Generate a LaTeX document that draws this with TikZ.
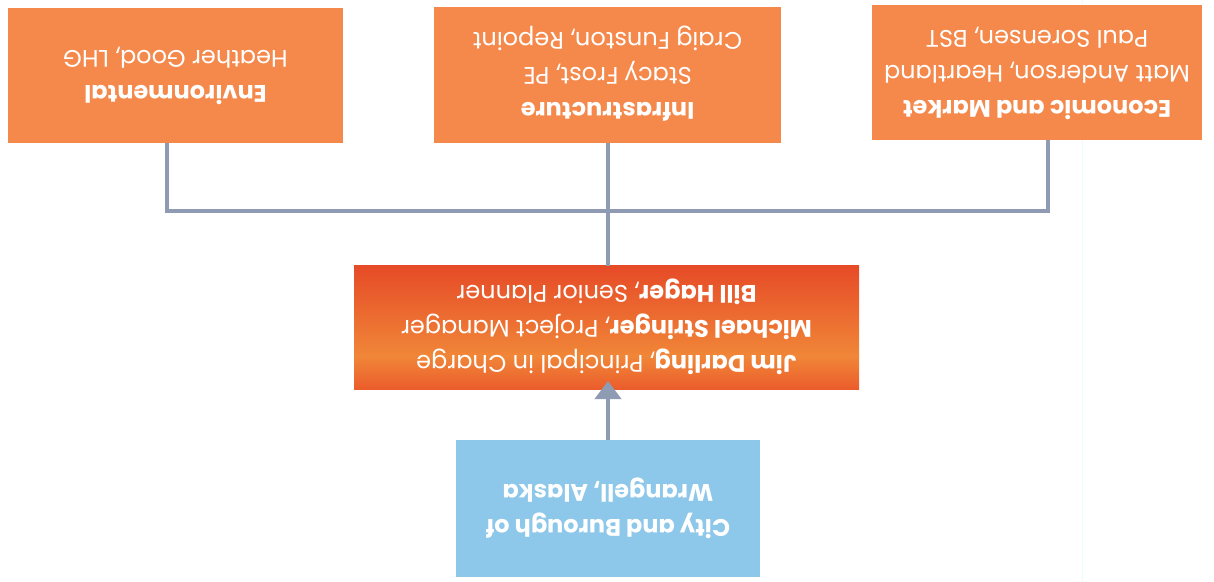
\documentclass[tikz,border=0pt]{standalone}
\usepackage{graphicx}
\usepackage{fontspec}
\setmainfont{Poppins}
\usetikzlibrary{arrows.meta}
\definecolor{boxorange}{HTML}{F4894B}
\definecolor{boxblue}{HTML}{8DC7EA}
\definecolor{linkgrey}{HTML}{8E9BB3}
\definecolor{redtop}{HTML}{E64B27}
\definecolor{redband}{HTML}{F08638}
\definecolor{redbot}{HTML}{EB5D2C}
\begin{document}
\begin{tikzpicture}[x=0.5pt,y=-0.5pt,
  box/.style={inner sep=0pt, outer sep=0pt, text=white, font=\fontsize{12}{17.5}\selectfont},
  link/.style={draw=linkgrey, line width=2pt},
  up/.style={}]
\useasboundingbox (0,0) rectangle (1214,582);
\fill[white] (0,0) rectangle (1214,582);
% faint scan line
\draw[color=green!8!cyan!10, line width=0.4pt] (1082,0) -- (1082,582);
% middle box shading
\shade[top color=redtop, bottom color=redband] (354,266) rectangle (859,356);
\shade[top color=redband, bottom color=redbot] (354,356) rectangle (859,389);
% boxes
\node[box, fill=boxorange, minimum width=167.5pt, minimum height=67.5pt] (env) at (175.5,75.5)
  {\rotatebox[origin=c]{180}{\begin{tabular}{@{}c@{}}\textbf{Environmental}\\Heather Good, LHG\end{tabular}}};
\node[box, fill=boxorange, minimum width=173.5pt, minimum height=68pt] (inf) at (607.5,75)
  {\rotatebox[origin=c]{180}{\begin{tabular}{@{}c@{}}\textbf{Infrastructure}\\Stacy Frost, PE\\Craig Funston, Repoint\end{tabular}}};
\node[box, fill=boxorange, minimum width=165pt, minimum height=67.5pt] (eco) at (1037,72.5)
  {\rotatebox[origin=c]{180}{\begin{tabular}{@{}c@{}}\textbf{Economic and Market}\\Matt Anderson, Heartland\\Paul Sorensen, BST\end{tabular}}};
\node[box, minimum width=252.5pt, minimum height=61.5pt] (mid) at (606.5,327.5)
  {\rotatebox[origin=c]{180}{\begin{tabular}{@{}c@{}}\textbf{Jim Darling}, Principal in Charge\\\textbf{Michael Stringer}, Project Manager\\\textbf{Bill Hager}, Senior Planner\end{tabular}}};
\node[box, fill=boxblue, minimum width=152pt, minimum height=68.5pt] (city) at (608,508.5)
  {\rotatebox[origin=c]{180}{\begin{tabular}{@{}c@{}}\textbf{City and Burough of}\\\textbf{Wrangell, Alaska}\end{tabular}}};
% connectors
\coordinate (jl) at (167,211);
\coordinate (jm) at (608,211);
\coordinate (jr) at (1048,211);
\draw[link] (env.south -| jl) -- (jl) -- (jr) -- (eco.south -| jr);
\draw[link] (inf.south -| jm) -- (mid.north -| jm);
\draw[link, -{Triangle[width=13pt,length=9pt]}] (city.north) -- ([yshift=4pt]mid.south -| city.north);
\end{tikzpicture}
\end{document}
